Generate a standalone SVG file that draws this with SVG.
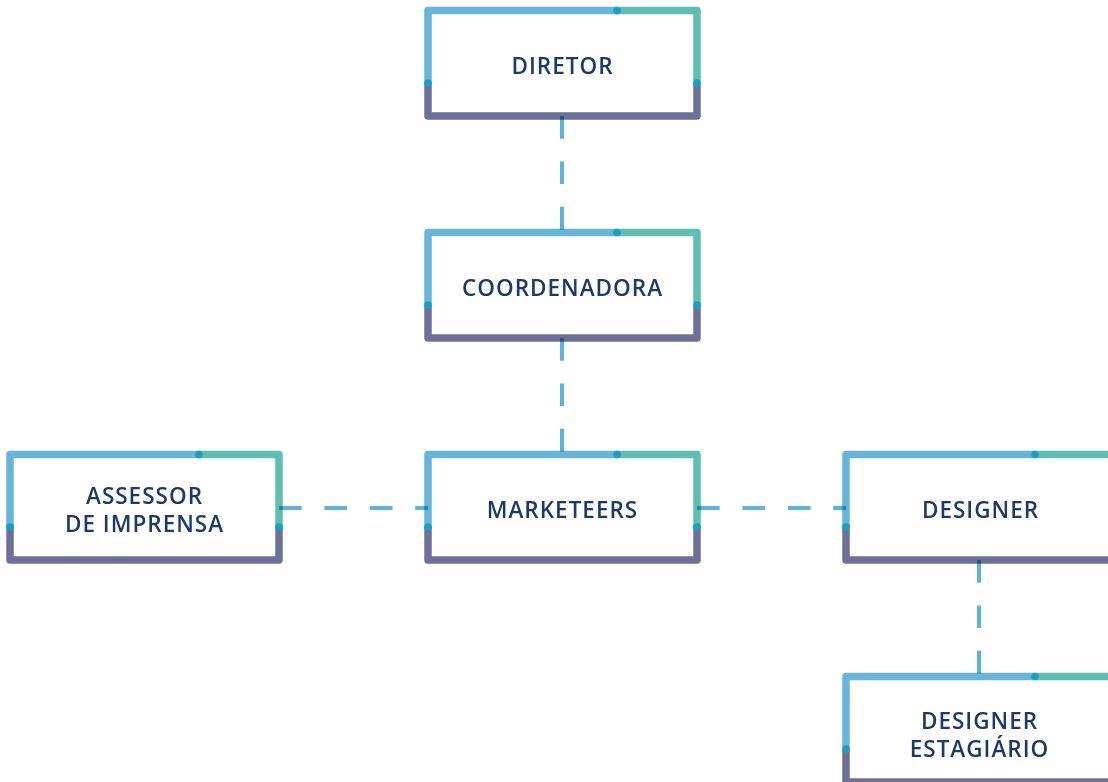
<svg xmlns="http://www.w3.org/2000/svg" width="1108" height="782" viewBox="0 0 1108 782">
<defs>
<style>
.bg{fill:#ffffff}
.blue{fill:none;stroke:#67b5d9;stroke-width:7.5;stroke-linejoin:round}
.teal{fill:none;stroke:#5ebfb1;stroke-width:7.5;stroke-linejoin:round}
.purp{fill:none;stroke:#6d7197;stroke-width:7.5;stroke-linejoin:round}
.dot{fill:#1a9ec6}
.lbl{font-family:"Open Sans","Liberation Sans",sans-serif;font-weight:600;font-size:22.5px;letter-spacing:1px;fill:#1b3a6b;text-anchor:middle}
.conn{fill:none;stroke:#5cb4dc;stroke-width:4;stroke-dasharray:22.7 22.7;mix-blend-mode:multiply}
</style>
<g id="frame">
<rect class="bg" x="0" y="0" width="269" height="105.5"/>
<path class="blue" d="M0,72.5 V0 H189"/>
<path class="teal" d="M189,0 H269 V72.5"/>
<path class="purp" d="M0,72.5 V105.5 H269 V72.5"/>
<circle class="dot" cx="189" cy="0" r="3.8"/>
<circle class="dot" cx="0" cy="72.5" r="3.8"/>
<circle class="dot" cx="269" cy="72.5" r="3.8"/>
</g>
</defs>
<rect x="0" y="0" width="1108" height="782" fill="#ffffff"/>
<g id="n-diretor" transform="translate(428,10.5)">
<use href="#frame"/>
<text class="lbl" x="134.5" y="63.8">DIRETOR</text>
</g>
<g id="n-coordenadora" transform="translate(428,232.5)">
<use href="#frame"/>
<text class="lbl" x="134.5" y="63.8">COORDENADORA</text>
</g>
<g id="n-marketeers" transform="translate(428,454.5)">
<use href="#frame"/>
<text class="lbl" x="134.5" y="63.8">MARKETEERS</text>
</g>
<g id="n-assessor" transform="translate(10,454.5)">
<use href="#frame"/>
<text class="lbl" x="134.5" y="49">ASSESSOR</text>
<text class="lbl" x="134.5" y="77.2">DE IMPRENSA</text>
</g>
<g id="n-designer" transform="translate(846,454.5)">
<use href="#frame"/>
<text class="lbl" x="134.5" y="63.8">DESIGNER</text>
</g>
<g id="n-estagiario" transform="translate(846,676.5)">
<use href="#frame"/>
<text class="lbl" x="133.5" y="52">DESIGNER</text>
<text class="lbl" x="133.5" y="80.4">ESTAGIÁRIO</text>
</g>
<g id="connectors">
<path class="conn" d="M562,116 V232.5"/>
<path class="conn" d="M562,338 V454.5"/>
<path class="conn" d="M279,508 H428"/>
<path class="conn" d="M697,508 H846"/>
<path class="conn" d="M979,560 V676.5"/>
</g>
</svg>
